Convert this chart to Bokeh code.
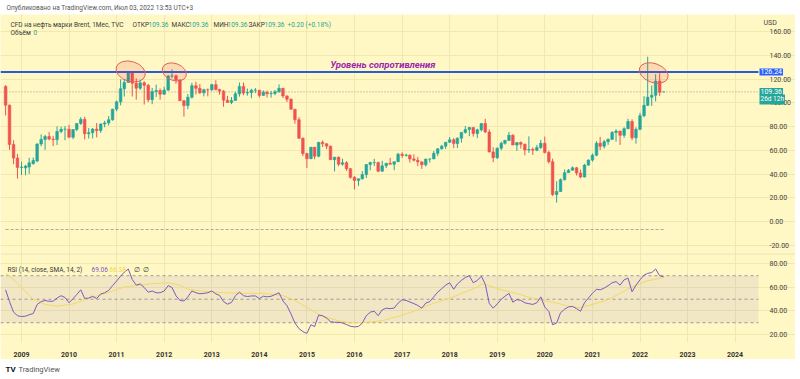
import pandas as pd
from bokeh.plotting import figure
from bokeh.layouts import column
from bokeh.models import (Range1d, FixedTicker, DatetimeTickFormatter, NumeralTickFormatter,
                          Span, BoxAnnotation, Label, ColumnDataSource)
from bokeh.core.properties import value
from bokeh.embed import file_html
from bokeh.resources import INLINE

# ---------------- data (monthly, TVC Brent CFD) ----------------
first_month = "2008-09"
opens = [
    114.0, 98.2, 65.0, 53.5,
    45.6, 45.2, 46.0, 48.8, 51.0, 65.4, 69.3, 71.7, 69.6, 69.1, 75.9, 77.8,
    77.9, 71.2, 77.6, 82.7, 86.2, 74.0, 75.0, 78.0, 76.7, 82.3, 83.2, 85.9,
    94.8, 101.0, 112.0, 117.4, 125.9, 116.7, 112.5, 117.0, 114.9, 102.8, 109.6, 110.5,
    107.4, 110.9, 122.7, 122.9, 119.5, 101.9, 97.8, 104.9, 114.6, 112.4, 108.7, 111.2,
    111.1, 115.5, 111.4, 110.0, 102.4, 100.4, 102.2, 107.7, 114.0, 108.4, 108.8, 110.8,
    110.8, 106.4, 109.0, 107.8, 108.1, 109.4, 112.4, 106.0, 103.2, 94.7, 85.9, 70.2,
    57.3, 53.0, 62.6, 55.1, 66.8, 65.6, 63.6, 52.2, 54.2, 48.4, 49.6, 44.6,
    37.3, 34.7, 36.0, 39.6, 48.1, 49.7, 49.7, 42.5, 47.0, 49.1, 48.3, 50.5,
    56.8, 55.7, 56.0, 52.8, 51.7, 50.3, 47.9, 52.7, 52.8, 57.5, 61.4, 63.6,
    66.9, 69.0, 65.8, 70.3, 75.2, 77.6, 79.4, 74.2, 77.4, 82.7, 75.5, 58.7,
    53.8, 61.9, 66.0, 68.4, 72.8, 64.5, 66.6, 65.2, 60.4, 60.8, 60.2, 62.4,
    66.0, 58.2, 50.5, 22.7, 25.3, 35.3, 41.2, 43.3, 45.3, 40.9, 37.5, 47.6,
    51.8, 55.9, 66.1, 63.5, 67.3, 69.3, 75.1, 76.3, 72.7, 78.3, 84.4, 70.6,
    77.8, 89.3, 98.0, 104.9, 106.5, 118.5, 109.36,
]
highs = [
    115.0, 98.7, 68.5, 57.0,
    50.5, 47.8, 53.8, 54.0, 66.0, 73.5, 73.2, 75.5, 72.3, 80.4, 80.0, 80.5,
    81.6, 77.8, 82.8, 88.0, 88.4, 78.8, 78.8, 83.1, 82.8, 85.0, 89.0, 95.0,
    102.0, 120.0, 119.9, 127.0, 126.6, 120.8, 119.0, 118.4, 116.1, 112.7, 115.5, 112.3,
    113.8, 123.8, 128.4, 124.0, 119.9, 102.5, 107.6, 117.0, 117.9, 116.0, 112.0, 112.3,
    116.3, 119.2, 112.0, 111.0, 106.0, 105.0, 109.4, 117.3, 117.3, 112.2, 112.0, 112.6,
    110.9, 110.6, 110.5, 110.2, 111.0, 115.7, 112.6, 106.3, 103.9, 95.0, 88.0, 71.0,
    58.0, 63.0, 63.0, 67.1, 68.4, 66.1, 64.0, 54.6, 54.9, 53.0, 50.9, 44.8,
    38.2, 36.2, 42.5, 48.5, 50.5, 52.9, 50.5, 51.2, 49.5, 53.7, 50.5, 57.9,
    58.4, 57.3, 56.6, 56.6, 54.6, 50.8, 52.9, 53.0, 59.5, 61.5, 64.7, 67.1,
    71.3, 70.3, 71.0, 75.5, 80.5, 79.7, 79.4, 78.3, 83.0, 86.7, 77.8, 62.7,
    62.4, 67.4, 69.0, 75.6, 73.6, 67.0, 67.6, 65.7, 71.9, 62.4, 64.6, 68.9,
    71.7, 59.7, 53.0, 34.0, 36.3, 43.9, 44.3, 46.5, 46.0, 43.9, 48.6, 52.5,
    57.4, 67.8, 71.4, 68.9, 70.2, 76.3, 77.8, 76.5, 79.5, 86.7, 86.2, 79.5,
    91.7, 105.8, 139.1, 114.8, 124.3, 125.2, 109.36,
]
lows = [
    89.5, 60.5, 48.3, 36.2,
    39.2, 39.0, 40.2, 48.0, 50.0, 63.5, 60.4, 68.5, 63.6, 64.5, 74.5, 68.6,
    70.4, 69.5, 76.3, 81.5, 69.2, 70.0, 70.1, 71.0, 74.8, 79.5, 81.1, 85.0,
    93.0, 98.0, 105.5, 117.0, 105.5, 102.8, 111.0, 98.7, 100.8, 99.0, 105.1, 102.8,
    107.0, 110.2, 120.8, 116.3, 101.9, 88.5, 94.8, 103.7, 107.3, 107.6, 105.6, 105.6,
    110.2, 110.6, 106.9, 96.8, 100.7, 99.0, 101.9, 105.4, 106.6, 106.2, 104.0, 108.3,
    104.6, 106.4, 104.6, 104.5, 106.5, 108.7, 104.2, 100.8, 94.6, 82.6, 69.8, 55.2,
    45.2, 52.6, 52.5, 54.2, 62.8, 61.0, 52.0, 42.2, 46.7, 47.1, 42.7, 36.1,
    27.1, 30.0, 35.5, 36.8, 43.2, 46.8, 41.5, 41.8, 45.0, 48.2, 43.3, 50.5,
    53.6, 54.7, 49.7, 50.6, 46.8, 44.4, 46.4, 49.7, 52.8, 55.2, 60.6, 61.2,
    66.2, 61.9, 62.0, 66.6, 74.2, 72.0, 71.6, 70.4, 76.0, 74.8, 58.4, 50.0,
    52.8, 60.1, 64.9, 68.0, 64.6, 59.5, 61.5, 55.9, 58.0, 56.2, 59.3, 61.3,
    57.5, 49.0, 21.6, 16.0, 25.1, 34.6, 41.1, 42.9, 38.8, 36.5, 37.3, 47.0,
    50.5, 55.1, 60.3, 61.6, 64.6, 69.2, 67.4, 64.6, 70.6, 78.0, 68.6, 65.7,
    77.0, 88.0, 97.4, 97.6, 101.3, 106.0, 109.36,
]
closes = [
    98.2, 65.0, 53.5, 45.6,
    45.9, 46.8, 49.5, 51.5, 65.4, 69.3, 71.7, 69.6, 69.1, 75.9, 77.8, 77.9,
    71.2, 77.6, 82.7, 86.2, 74.0, 75.0, 78.0, 76.7, 82.3, 83.2, 85.9, 94.8,
    101.0, 112.0, 117.4, 125.9, 116.7, 112.5, 117.0, 114.9, 102.8, 109.6, 110.5, 107.4,
    110.9, 122.7, 122.9, 119.5, 101.9, 97.8, 104.9, 114.6, 112.4, 108.7, 111.2, 111.1,
    115.5, 111.4, 110.0, 102.4, 100.4, 102.2, 107.7, 114.0, 108.4, 108.8, 110.8, 110.8,
    106.4, 109.0, 107.8, 108.1, 109.4, 112.4, 106.0, 103.2, 94.7, 85.9, 70.2, 57.3,
    53.0, 62.6, 55.1, 66.8, 65.6, 63.6, 52.2, 54.2, 48.4, 49.6, 44.6, 37.3,
    34.7, 36.0, 39.6, 48.1, 49.7, 49.7, 42.5, 47.0, 49.1, 48.3, 50.5, 56.8,
    55.7, 56.0, 52.8, 51.7, 50.3, 47.9, 52.7, 52.8, 57.5, 61.4, 63.6, 66.9,
    69.0, 65.8, 70.3, 75.2, 77.6, 79.4, 74.2, 77.4, 82.7, 75.5, 58.7, 53.8,
    61.9, 66.0, 68.4, 72.8, 64.5, 66.6, 65.2, 60.4, 60.8, 60.2, 62.4, 66.0,
    58.2, 50.5, 22.7, 25.3, 35.3, 41.2, 43.3, 45.3, 40.9, 37.5, 47.6, 51.8,
    55.9, 66.1, 63.5, 67.3, 69.3, 75.1, 76.3, 72.7, 78.3, 84.4, 70.6, 77.8,
    89.3, 98.0, 104.9, 106.5, 118.5, 109.16, 109.36,
]
rsi_values = [
    58, 48, 39, 36,
    35.3, 35.6, 36.8, 37.8, 45.5, 48, 48.9, 48.3, 48.3, 51, 53, 51.5,
    47, 50.5, 54, 58, 50.7, 51, 52.5, 50.5, 54.5, 55.5, 57.5, 61.6,
    65.5, 69.6, 73, 75.7, 66.8, 62, 63, 60, 56, 57, 55.5, 55.5,
    57, 61.6, 60, 53, 49, 48.5, 52, 57, 55.5, 54.7, 55, 55.5,
    57, 54.5, 53.3, 48, 45.8, 47.3, 53, 56, 53, 52.3, 52.8, 52.8,
    50.6, 52.6, 52, 52.5, 54, 55.5, 48.5, 44.5, 37.5, 29.7, 25, 22.5,
    20.9, 28.3, 26.7, 36.5, 36, 34, 31, 30.4, 30.4, 29.8, 28.5, 27,
    26.5, 26.8, 29.7, 36, 39, 39.8, 36, 41, 42.4, 42, 42.5, 46.7,
    49.6, 49, 47.7, 46.3, 44.7, 42.4, 46.7, 48, 52, 56, 59, 62,
    64, 58.5, 63, 66, 68.5, 70, 64, 66, 69.6, 62.8, 46.4, 42.4,
    46, 50, 52.5, 55, 47.5, 49.7, 49, 47, 46.2, 45.6, 47, 52,
    43.4, 39.6, 28.3, 29.7, 38.5, 41.5, 43.5, 43.9, 42, 39.8, 47, 51,
    55, 58.5, 58, 59.5, 61.5, 64, 65, 62, 66.5, 68, 56.3, 62,
    66.5, 70.5, 72, 72.7, 75.7, 70, 69.06,
]
sma_months = [
    "2008-09", "2008-10", "2009-01", "2009-04", "2009-07", "2009-10", "2010-02", "2010-05",
    "2010-09", "2010-12", "2011-03", "2011-07", "2011-10", "2012-02", "2012-05", "2012-07",
    "2012-11", "2013-04", "2013-09", "2014-02", "2014-07", "2014-10", "2015-02", "2015-05",
    "2015-09", "2015-12", "2016-04", "2016-08", "2016-11", "2017-03", "2017-06", "2017-09",
    "2018-01", "2018-04", "2018-08", "2018-09", "2018-11", "2019-02", "2019-06", "2019-09",
    "2019-12", "2020-04", "2020-07", "2020-10", "2021-01", "2021-05", "2021-08", "2021-11",
    "2022-03", "2022-07",
]
sma_values = [
    71.5, 70, 60, 50, 45.6, 44, 46, 49.6,
    53.7, 57, 60.4, 62, 63.3, 64, 62, 58.5,
    56.7, 55.5, 55, 55, 53, 49, 41, 35.3,
    31.7, 29.8, 30.4, 31.7, 34.5, 38.5, 42.6, 46.7,
    50.8, 54.9, 60.3, 63, 61.6, 58, 54.9, 51.7,
    49.5, 46.8, 44, 42.8, 45.5, 49.6, 55, 60.4,
    65.8, 68.4,
]
price_ticks = [160, 140, 120, 100, 80, 60, 40, 20, 0, -20]
rsi_ticks = [80, 60, 40, 20]
years = list(range(2009, 2025))
resistance_level = 126.24
last_price = 109.36
rsi_upper, rsi_mid, rsi_lower = 70, 50, 30
# drawn annotations: ellipses around the tops and the caption
circle_dates = ["2011-04-19", "2012-03-19", "2022-04-16"]
circle_prices = [126.6, 126.2, 125.3]
caption_date, caption_price = "2016-08-06", 132.5
caption_text = "Уровень сопротивления"

assert len(opens) == len(highs) == len(lows) == len(closes) == len(rsi_values)
assert len(sma_months) == len(sma_values)

# ---------------- helpers ----------------
EPOCH = pd.Timestamp("1970-01-01")
def ms(t):
    return (pd.Timestamp(t) - EPOCH) / pd.Timedelta(milliseconds=1)

months = pd.date_range(start=first_month + "-01", periods=len(closes), freq="MS")
x_ms = [ms(t) for t in months]
YEAR_MS = 365.25 * 86400000
PX_PER_YEAR = 47.58
base = ms("2009-01-01")
W = 795            # whole chart width; frame spans all of it
SCALE_X = 758      # where the price scale starts
def px_to_ms(px):
    return base + (px - 21) / PX_PER_YEAR * YEAR_MS
xr = Range1d(px_to_ms(0), px_to_ms(W))
AXIS_AT = px_to_ms(SCALE_X)
year_ms = [ms(f"{y}-01-01") for y in years]
bar_w = 2.6 / PX_PER_YEAR * YEAR_MS

FONT = "Roboto"
BG = "#fff8c4"
GRID = "#f1e8ad"
UP, DOWN = "#26a69a", "#ef5350"
TXT = "#3a3a3a"

def base_fig(h, yr, border_bottom=0):
    f = figure(width=W, height=h, x_axis_type="datetime", x_range=xr, y_range=yr,
               output_backend="svg", toolbar_location=None,
               x_axis_location="below" if border_bottom else None,
               y_axis_location="right",
               min_border_left=0, min_border_right=0, min_border_top=0,
               min_border_bottom=border_bottom)
    f.background_fill_color = BG
    f.border_fill_color = BG
    f.outline_line_color = None
    f.yaxis.fixed_location = AXIS_AT
    f.yaxis.axis_line_color = None
    f.yaxis.major_tick_line_color = None
    f.yaxis.minor_tick_line_color = None
    f.yaxis.major_label_standoff = 5
    f.yaxis.major_label_text_font = FONT
    f.yaxis.major_label_text_font_size = "7px"
    f.yaxis.major_label_text_color = "#444444"
    f.yaxis.formatter = NumeralTickFormatter(format="0.00")
    f.xgrid.ticker = FixedTicker(ticks=year_ms)
    f.grid.grid_line_color = GRID
    f.grid.grid_line_width = 1
    return f

def lab(fig, x, y, t, c, size="6.5px", **kw):
    fig.add_layout(Label(x=x, y=y, x_units="screen", y_units="data", text=t, text_color=c,
                         text_font=FONT, text_font_size=size, text_baseline="middle", **kw))

# ---------------- header ----------------
header = figure(width=800, height=14, x_range=Range1d(0, 800), y_range=Range1d(0, 14),
                output_backend="svg", toolbar_location=None, x_axis_location=None,
                y_axis_location=None, min_border=0)
header.outline_line_color = None
header.grid.visible = False
header.text(x=[6], y=[7], text=["Опубликовано на TradingView.com, Июл 03, 2022 13:53 UTC+3"],
            text_font=value(FONT), text_font_size="6.5px", text_color="#555555", text_baseline="middle")

# ---------------- main price pane ----------------
p = base_fig(239, Range1d(-27.0, 174.68))
p.yaxis.ticker = FixedTicker(ticks=price_ticks)
p.ygrid.ticker = FixedTicker(ticks=price_ticks)

colors = [UP if c >= o else DOWN for o, c in zip(opens, closes)]
src = ColumnDataSource(dict(x=x_ms, h=highs, l=lows,
                            top=[max(o, c) for o, c in zip(opens, closes)],
                            bottom=[min(o, c) for o, c in zip(opens, closes)],
                            color=colors))
p.segment(x0=[xr.start], x1=[AXIS_AT], y0=[last_price], y1=[last_price], line_color="#9a9a8a",
          line_dash="1 2", line_width=1)
p.segment(x0=[x_ms[0]], x1=[x_ms[-1]], y0=[-6.75], y1=[-6.75], line_color="#a8a8a0",
          line_dash="3 2", line_width=1)
p.segment(x0="x", x1="x", y0="l", y1="h", line_color="color", line_width=1, source=src)
p.vbar(x="x", width=bar_w, top="top", bottom="bottom", fill_color="color",
       line_color="color", line_width=0.6, source=src)

p.segment(x0=[xr.start], x1=[AXIS_AT], y0=[resistance_level], y1=[resistance_level],
          line_color="#2a5bd7", line_width=2)
p.ellipse(x=[ms(d) for d in circle_dates], y=circle_prices, width=[30, 25, 30], height=[20, 17, 19],
          angle=[-0.3, -0.35, -0.35], width_units="screen", height_units="screen",
          fill_color="#f23645", fill_alpha=0.15, line_color="#e06060", line_width=1)
p.text(x=[ms(caption_date)], y=[caption_price], text=[caption_text], text_font=value(FONT),
       text_font_style="bold italic", text_font_size="9.5px", text_color="#9c27b0",
       text_align="center", text_baseline="middle")

# legend rows
leg_y1, leg_y2 = 166.2, 159.2
for xx, t, c in [(10, "CFD на нефть марки Brent, 1Мес, TVC", TXT),
                 (132, "ОТКР", TXT), (148, "109.36", UP),
                 (171, "МАКС", TXT), (188, "109.36", UP),
                 (213, "МИН", TXT), (227, "109.36", UP),
                 (248, "ЗАКР", TXT), (264, "109.36", UP),
                 (287, "+0.20 (+0.18%)", UP)]:
    lab(p, xx, leg_y1, t, c)
lab(p, 10, leg_y2, "Объём", TXT)
lab(p, 33, leg_y2, "0", UP)
# price-scale value boxes
lab(p, 763, 167.9, "USD", "#444444", size="7px", background_fill_color=BG)
lab(p, 759, resistance_level, "126.24", "white", size="7px",
    background_fill_color="#2962ff", padding=1)
lab(p, 759, last_price + 0.3, "109.36", "white", size="7px",
    background_fill_color=UP, padding=1)
lab(p, 759, last_price - 6.4, "26d 12h", "white", size="6.5px",
    background_fill_color=UP, padding=1)

# ---------------- RSI pane ----------------
r = base_fig(106, Range1d(13.2, 88.9), border_bottom=14)
r.yaxis.ticker = FixedTicker(ticks=rsi_ticks)
r.ygrid.ticker = FixedTicker(ticks=rsi_ticks)
r.xaxis.ticker = FixedTicker(ticks=year_ms)
r.xaxis.formatter = DatetimeTickFormatter(years="%Y", months="%Y", days="%Y", hours="%Y")
r.xaxis.axis_line_color = None
r.xaxis.major_tick_line_color = None
r.xaxis.minor_tick_line_color = None
r.xaxis.major_label_standoff = 3
r.xaxis.major_label_text_font = FONT
r.xaxis.major_label_text_font_size = "7px"
r.xaxis.major_label_text_font_style = "bold"
r.xaxis.major_label_text_color = "#333333"
r.add_layout(Span(location=88.6, dimension="width", line_color="#ddd59a", line_width=1))
r.add_layout(BoxAnnotation(bottom=rsi_lower, top=rsi_upper, right=AXIS_AT, fill_color="#7e57c2",
                           fill_alpha=0.1, line_color=None, level="underlay"))
r.segment(x0=[xr.start] * 3, x1=[AXIS_AT] * 3, y0=[rsi_upper, rsi_mid, rsi_lower],
          y1=[rsi_upper, rsi_mid, rsi_lower], line_color="#9a9a9a", line_dash="3 3", line_width=1)
r.line([ms(m + "-01") for m in sma_months], sma_values, line_color="#f2d865", line_width=1)
r.line(x_ms, rsi_values, line_color="#7e57c2", line_width=1)
rleg_y = 74.9
for xx, t, c in [(7, "RSI (14, close, SMA, 14, 2)", TXT), (91, "69.06", "#7e57c2"),
                 (109, "66.38", "#f2d34f"), (133, "∅", TXT), (142, "∅", TXT)]:
    lab(r, xx, rleg_y, t, c)

# ---------------- footer ----------------
footer = figure(width=800, height=19, x_range=Range1d(0, 800), y_range=Range1d(0, 19),
                output_backend="svg", toolbar_location=None, x_axis_location=None,
                y_axis_location=None, min_border=0)
footer.outline_line_color = None
footer.grid.visible = False
footer.text(x=[5], y=[9], text=["TV"], text_font=value(FONT), text_font_style="bold",
            text_font_size="8px", text_color="#131722", text_baseline="middle")
footer.text(x=[18], y=[9], text=["TradingView"], text_font=value(FONT),
            text_font_size="7.5px", text_color="#555555", text_baseline="middle")

layout = column(header, p, r, footer, spacing=0)
open("out.html", "w").write(file_html(layout, INLINE))
